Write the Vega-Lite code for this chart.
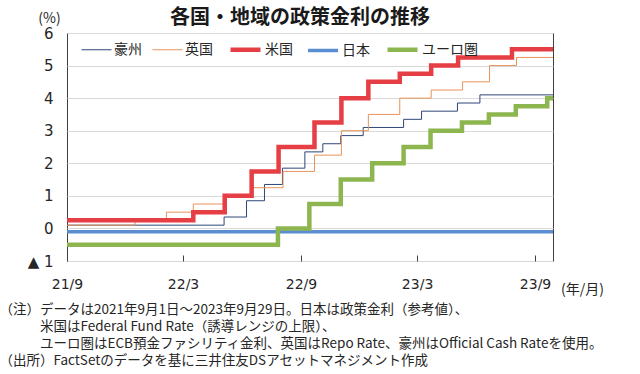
{
  "$schema": "https://vega.github.io/schema/vega-lite/v6.json",
  "width": 486,
  "height": 228,
  "autosize": {"type": "none"},
  "padding": {"left": 67, "top": 33, "right": 87, "bottom": 113},
  "background": "white",
  "config": {
    "view": {"stroke": "#404040", "strokeWidth": 1},
    "font": "Noto Sans CJK JP"
  },
  "title": {
    "text": "各国・地域の政策金利の推移",
    "font": "Noto Sans CJK JP",
    "fontSize": 20,
    "fontWeight": "bold",
    "color": "#1a1a1a",
    "anchor": "middle",
    "dx": -10,
    "dy": 23,
    "offset": 6
  },
  "data": {
    "values": [
      {"s": "豪州", "d": "2021-09-01", "v": 0.10},
      {"s": "豪州", "d": "2022-05-04", "v": 0.35},
      {"s": "豪州", "d": "2022-06-08", "v": 0.85},
      {"s": "豪州", "d": "2022-07-06", "v": 1.35},
      {"s": "豪州", "d": "2022-08-03", "v": 1.85},
      {"s": "豪州", "d": "2022-09-07", "v": 2.35},
      {"s": "豪州", "d": "2022-10-05", "v": 2.60},
      {"s": "豪州", "d": "2022-11-02", "v": 2.85},
      {"s": "豪州", "d": "2022-12-07", "v": 3.10},
      {"s": "豪州", "d": "2023-02-08", "v": 3.35},
      {"s": "豪州", "d": "2023-03-08", "v": 3.60},
      {"s": "豪州", "d": "2023-05-03", "v": 3.85},
      {"s": "豪州", "d": "2023-06-07", "v": 4.10},
      {"s": "豪州", "d": "2023-09-29", "v": 4.10},
      {"s": "英国", "d": "2021-09-01", "v": 0.10},
      {"s": "英国", "d": "2021-12-16", "v": 0.25},
      {"s": "英国", "d": "2022-02-03", "v": 0.50},
      {"s": "英国", "d": "2022-03-17", "v": 0.75},
      {"s": "英国", "d": "2022-05-05", "v": 1.00},
      {"s": "英国", "d": "2022-06-16", "v": 1.25},
      {"s": "英国", "d": "2022-08-04", "v": 1.75},
      {"s": "英国", "d": "2022-09-22", "v": 2.25},
      {"s": "英国", "d": "2022-11-03", "v": 3.00},
      {"s": "英国", "d": "2022-12-15", "v": 3.50},
      {"s": "英国", "d": "2023-02-02", "v": 4.00},
      {"s": "英国", "d": "2023-03-23", "v": 4.25},
      {"s": "英国", "d": "2023-05-11", "v": 4.50},
      {"s": "英国", "d": "2023-06-22", "v": 5.00},
      {"s": "英国", "d": "2023-08-03", "v": 5.25},
      {"s": "英国", "d": "2023-09-29", "v": 5.25},
      {"s": "米国", "d": "2021-09-01", "v": 0.25},
      {"s": "米国", "d": "2022-03-17", "v": 0.50},
      {"s": "米国", "d": "2022-05-05", "v": 1.00},
      {"s": "米国", "d": "2022-06-16", "v": 1.75},
      {"s": "米国", "d": "2022-07-28", "v": 2.50},
      {"s": "米国", "d": "2022-09-22", "v": 3.25},
      {"s": "米国", "d": "2022-11-03", "v": 4.00},
      {"s": "米国", "d": "2022-12-15", "v": 4.50},
      {"s": "米国", "d": "2023-02-02", "v": 4.75},
      {"s": "米国", "d": "2023-03-23", "v": 5.00},
      {"s": "米国", "d": "2023-05-04", "v": 5.25},
      {"s": "米国", "d": "2023-07-27", "v": 5.50},
      {"s": "米国", "d": "2023-09-29", "v": 5.50},
      {"s": "日本", "d": "2021-09-01", "v": -0.10},
      {"s": "日本", "d": "2023-09-29", "v": -0.10},
      {"s": "ユーロ圏", "d": "2021-09-01", "v": -0.50},
      {"s": "ユーロ圏", "d": "2022-07-27", "v": 0.00},
      {"s": "ユーロ圏", "d": "2022-09-14", "v": 0.75},
      {"s": "ユーロ圏", "d": "2022-11-02", "v": 1.50},
      {"s": "ユーロ圏", "d": "2022-12-21", "v": 2.00},
      {"s": "ユーロ圏", "d": "2023-02-08", "v": 2.50},
      {"s": "ユーロ圏", "d": "2023-03-22", "v": 3.00},
      {"s": "ユーロ圏", "d": "2023-05-10", "v": 3.25},
      {"s": "ユーロ圏", "d": "2023-06-21", "v": 3.50},
      {"s": "ユーロ圏", "d": "2023-08-02", "v": 3.75},
      {"s": "ユーロ圏", "d": "2023-09-20", "v": 4.00},
      {"s": "ユーロ圏", "d": "2023-09-29", "v": 4.00}
    ]
  },
  "encoding": {
    "x": {
      "field": "d",
      "type": "temporal",
      "scale": {"type": "utc", "domain": [{"year": 2021, "month": 9, "date": 1, "utc": true}, {"year": 2023, "month": 9, "date": 29, "utc": true}], "nice": false},
      "axis": {
        "values": [
          {"year": 2021, "month": 9, "date": 1, "utc": true},
          {"year": 2022, "month": 3, "date": 1, "utc": true},
          {"year": 2022, "month": 9, "date": 1, "utc": true},
          {"year": 2023, "month": 3, "date": 1, "utc": true},
          {"year": 2023, "month": 9, "date": 1, "utc": true}
        ],
        "labelExpr": "utcFormat(datum.value, '%y/%-m')",
        "labelFont": "DejaVu Sans",
        "labelFontSize": 14,
        "labelColor": "#262626",
        "labelPadding": 22,
        "labelFlush": false,
        "tickSize": -6,
        "tickColor": "#404040",
        "domain": false,
        "grid": false,
        "title": [
          "（注）データは2021年9月1日～2023年9月29日。日本は政策金利（参考値）、",
          "\u200b　　　米国はFederal Fund Rate（誘導レンジの上限）、",
          "\u200b　　　ユーロ圏はECB預金ファシリティ金利、英国はRepo Rate、豪州はOfficial Cash Rateを使用。",
          "（出所）FactSetのデータを基に三井住友DSアセットマネジメント作成"
        ],
        "titleFont": "Noto Sans CJK JP",
        "titleFontSize": 13.5,
        "titleFontWeight": "normal",
        "titleColor": "#262626",
        "titleAlign": "left",
        "titleAnchor": "start",
        "titleBaseline": "top",
        "titleLineHeight": 17,
        "titleX": -68,
        "titleY": 41
      }
    },
    "y": {
      "field": "v",
      "type": "quantitative",
      "scale": {"domain": [-1, 6], "nice": false, "zero": false},
      "axis": {
        "values": [-1, 0, 1, 2, 3, 4, 5, 6],
        "labelExpr": "datum.value < 0 ? '▲ ' + abs(datum.value) : datum.value",
        "labelFont": "DejaVu Sans",
        "labelFontSize": 15,
        "labelColor": "#262626",
        "labelPadding": 14,
        "ticks": false,
        "domain": false,
        "grid": true,
        "gridColor": "#D9D9D9",
        "gridWidth": 1,
        "title": "(%)",
        "titleFont": "Noto Sans CJK JP",
        "titleFontSize": 14,
        "titleFontWeight": "normal",
        "titleColor": "#262626",
        "titleAngle": 0,
        "titleAlign": "center",
        "titleBaseline": "middle",
        "titleX": -18,
        "titleY": -15
      }
    },
    "color": {
      "field": "s",
      "type": "nominal",
      "scale": {
        "domain": ["豪州", "英国", "米国", "日本", "ユーロ圏"],
        "range": ["#2E4676", "#E8925A", "#E53E44", "#5A8ED0", "#8DB650"]
      },
      "legend": {
        "orient": "none",
        "legendX": 14,
        "legendY": -1,
        "direction": "horizontal",
        "title": null,
        "symbolType": "stroke",
        "symbolSize": 900,
        "labelFont": "Noto Sans CJK JP",
        "labelFontSize": 14,
        "labelColor": "#262626",
        "labelOffset": 2,
        "columnPadding": 8
      }
    },
    "strokeWidth": {
      "field": "s",
      "type": "nominal",
      "scale": {
        "type": "ordinal",
        "domain": ["豪州", "英国", "米国", "日本", "ユーロ圏"],
        "range": [1, 1, 4.5, 3.5, 4.5]
      },
      "legend": {
        "orient": "none",
        "legendX": 14,
        "legendY": -1,
        "direction": "horizontal",
        "title": null,
        "symbolType": "stroke",
        "symbolSize": 900,
        "labelFont": "Noto Sans CJK JP",
        "labelFontSize": 14,
        "labelColor": "#262626",
        "labelOffset": 2,
        "columnPadding": 8
      }
    }
  },
  "layer": [
    {"transform": [{"filter": "datum.s === '豪州'"}], "mark": {"type": "line", "interpolate": "step-after"}},
    {"transform": [{"filter": "datum.s === '英国'"}], "mark": {"type": "line", "interpolate": "step-after"}},
    {"transform": [{"filter": "datum.s === '米国'"}], "mark": {"type": "line", "interpolate": "step-after"}},
    {"transform": [{"filter": "datum.s === '日本'"}], "mark": {"type": "line", "interpolate": "step-after"}},
    {"transform": [{"filter": "datum.s === 'ユーロ圏'"}], "mark": {"type": "line", "interpolate": "step-after"}},
    {
      "data": {"values": [{"d": "2023-09-29", "v": -1, "t": "(年/月)"}]},
      "mark": {"type": "text", "align": "left", "baseline": "middle", "dx": 8, "dy": 29, "fontSize": 14, "font": "Noto Sans CJK JP", "color": "#262626"},
      "encoding": {
        "text": {"field": "t"},
        "color": {"value": "#262626"}
      }
    }
  ]
}
